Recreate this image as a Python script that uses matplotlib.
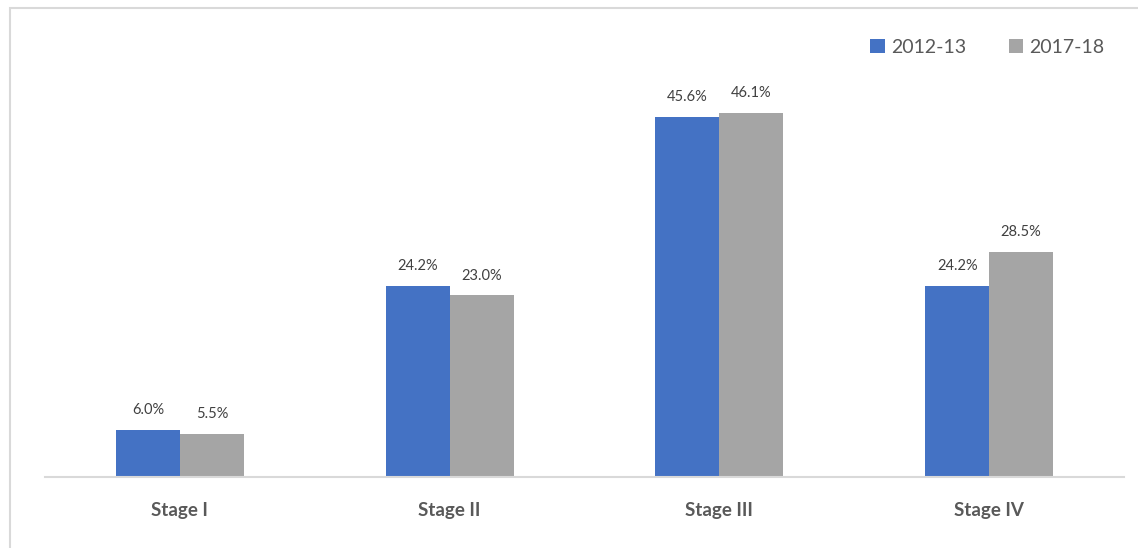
import matplotlib.pyplot as plt
import numpy as np
from matplotlib.patches import Rectangle

stages = ["Stage I", "Stage II", "Stage III", "Stage IV"]
y2012 = [6.0, 24.2, 45.6, 24.2]
y2017 = [5.5, 23.0, 46.1, 28.5]
series_names = ["2012-13", "2017-18"]

plt.rcParams['font.family'] = ['Lato', 'DejaVu Sans']

W, H = 1138, 548
fig = plt.figure(figsize=(W / 100, H / 100), dpi=100)

# chart border (only top/left visible in the crop)
fig.patches.append(Rectangle((9.5 / W, -0.1), 1.2, (H - 8.5) / H + 0.1,
                             transform=fig.transFigure, fill=False,
                             edgecolor="#D9D9D9", linewidth=1.5))

ax = fig.add_axes([45 / W, (H - 477) / H, 1079 / W, 447 / H])

x = np.arange(len(stages))
w = 0.237
b1 = ax.bar(x - w / 2, y2012, w, color="#4472C4", label=series_names[0])
b2 = ax.bar(x + w / 2, y2017, w, color="#A5A5A5", label=series_names[1])

for bars, vals in [(b1, y2012), (b2, y2017)]:
    for r, v in zip(bars, vals):
        ax.annotate(f"{v:.1f}%", (r.get_x() + r.get_width() / 2, v),
                    xytext=(0, 9), textcoords="offset points",
                    ha="center", va="bottom", fontsize=10.5, color="#404040")

ax.set_xlim(-0.5, 3.5)
ax.set_ylim(0, 447 / 7.9)
ax.set_yticks([])
ax.set_xticks(x)
ax.set_xticklabels(stages, fontsize=13.5, fontweight="bold", color="#595959")
ax.tick_params(axis="x", length=0, pad=18)
for s in ["top", "right", "left"]:
    ax.spines[s].set_visible(False)
ax.spines["bottom"].set_color("#D9D9D9")
ax.spines["bottom"].set_linewidth(1.5)

ax.legend(loc="upper right", bbox_to_anchor=(0.998, 1.02), ncol=2, frameon=False,
          fontsize=14, labelcolor="#595959", handlelength=0.75, handleheight=0.75,
          handletextpad=0.3, columnspacing=2.2)

fig.savefig("out.png", dpi=100)
